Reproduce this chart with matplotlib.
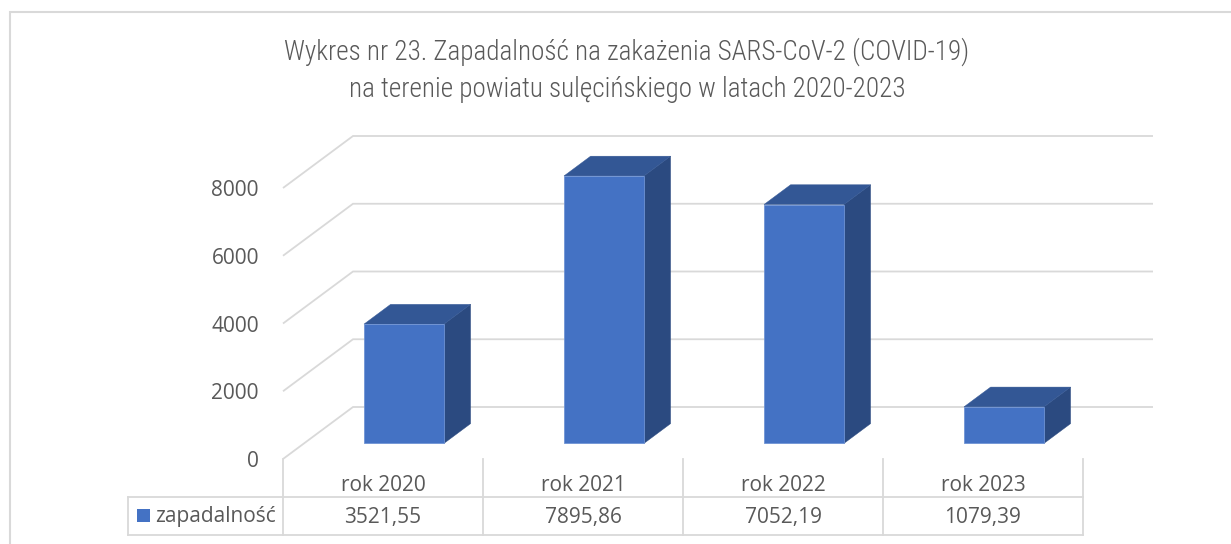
import matplotlib
matplotlib.use("Agg")
import matplotlib.pyplot as plt
from matplotlib.patches import Polygon, Rectangle
from matplotlib.lines import Line2D
import matplotlib.transforms as mtransforms

# ---------------- data ----------------
categories = ["rok 2020", "rok 2021", "rok 2022", "rok 2023"]
values = [3521.55, 7895.86, 7052.19, 1079.39]
series_name = "zapadalność"
y_ticks = [0, 2000, 4000, 6000, 8000]
title_lines = ["Wykres nr 23. Zapadalność na zakażenia SARS-CoV-2 (COVID-19)",
               "na terenie powiatu sulęcińskiego w latach 2020-2023"]

# ---------------- style ----------------
W, H = 1231, 544
TEXT_C = "#595959"
GRID_C = "#d9d9d9"
FRONT_C = "#4472c4"
TOP_C = "#335795"
SIDE_C = "#2b4a80"
FONT = "Open Sans"
TITLE_FONT = ["Roboto Condensed", "Liberation Sans Narrow", "Barlow Condensed",
              "Asap Condensed", "DejaVu Sans"]

fig = plt.figure(figsize=(W / 100, H / 100), dpi=100)
fig.patch.set_facecolor("white")


def fx(px):
    return px / W


def fy(py):
    return 1 - py / H


# front plane of the 3-D plot in pixels
L, R, T, B = 283, 1160, 100, 459
ax = fig.add_axes([fx(L), fy(B), fx(R) - fx(L), fy(T) - fy(B)])
ax.set_axis_off()
px_per_cat = 200.0
px_per_unit = 271.0 / 8000.0
n = len(categories)
ax.set_xlim(-0.5, -0.5 + (R - L) / px_per_cat)
ax.set_ylim(0, (B - T) / px_per_unit)
DX = 70 / px_per_cat      # depth offset in category units
DY = 52 / px_per_unit     # depth offset in value units

# outer chart frame
fig.add_artist(Rectangle((fx(10), fy(H + 20)), fx(W + 20), fy(12) - fy(H + 20),
                         transform=fig.transFigure, fill=False,
                         edgecolor=GRID_C, lw=1.5))

# gridlines: side wall diagonal + back wall
for t in y_ticks:
    ax.plot([-0.5, -0.5 + DX, n - 0.5 + DX], [t, t + DY, t + DY],
            color=GRID_C, lw=1.3, zorder=1, solid_capstyle="butt",
            solid_joinstyle="miter", clip_on=False)

# y tick labels
off = mtransforms.ScaledTranslation(-24 / 100, -8 / 100, fig.dpi_scale_trans)
for t in y_ticks:
    ax.text(-0.5, t, f"{t}", transform=ax.transData + off, ha="right",
            va="baseline", fontsize=15, color=TEXT_C, family=FONT)

# 3-D bars
f1, f2, hw = 0.3, 0.68, 0.2
for i, v in enumerate(values):
    xl, xr = i - hw, i + hw
    front = [(xl + f1 * DX, f1 * DY), (xr + f1 * DX, f1 * DY),
             (xr + f1 * DX, v + f1 * DY), (xl + f1 * DX, v + f1 * DY)]
    top = [(xl + f1 * DX, v + f1 * DY), (xr + f1 * DX, v + f1 * DY),
           (xr + f2 * DX, v + f2 * DY), (xl + f2 * DX, v + f2 * DY)]
    side = [(xr + f1 * DX, f1 * DY), (xr + f2 * DX, f2 * DY),
            (xr + f2 * DX, v + f2 * DY), (xr + f1 * DX, v + f1 * DY)]
    ax.add_patch(Polygon(side, closed=True, facecolor=SIDE_C, edgecolor=SIDE_C,
                         lw=0.3, zorder=3))
    ax.add_patch(Polygon(top, closed=True, facecolor=TOP_C, edgecolor=TOP_C,
                         lw=0.3, zorder=3))
    ax.add_patch(Polygon(front, closed=True, facecolor=FRONT_C,
                         edgecolor="#6f93d4", lw=0.6, zorder=4))

# ---------------- data table ----------------
blend = mtransforms.blended_transform_factory(ax.transData, fig.transFigure)
TBL_TOP, ROW_MID, TBL_BOT = 459, 497, 535
TBL_LEFT = 128
for k in range(n + 1):
    xb = k - 0.5
    fig.add_artist(Line2D([xb, xb], [fy(TBL_TOP), fy(TBL_BOT)], transform=blend,
                          color=GRID_C, lw=1.3))
x_right_px = L + n * px_per_cat
for yy in (ROW_MID, TBL_BOT):
    fig.add_artist(Line2D([fx(TBL_LEFT), fx(x_right_px)], [fy(yy), fy(yy)],
                          transform=fig.transFigure, color=GRID_C, lw=1.3))
fig.add_artist(Line2D([fx(TBL_LEFT), fx(TBL_LEFT)], [fy(ROW_MID), fy(TBL_BOT)],
                      transform=fig.transFigure, color=GRID_C, lw=1.3))

for i, (c, v) in enumerate(zip(categories, values)):
    fig.text(0, fy(491), c, transform=blend, ha="center", va="baseline",
             fontsize=15, color=TEXT_C, family=FONT).set_x(i)
    fig.text(0, fy(523), f"{v:.2f}".replace(".", ","), transform=blend,
             ha="center", va="baseline", fontsize=15, color=TEXT_C,
             family=FONT).set_x(i)

fig.add_artist(Rectangle((fx(136.5), fy(521.5)), fx(13), fy(508.5) - fy(521.5),
                         transform=fig.transFigure, facecolor=FRONT_C,
                         edgecolor="none"))
fig.text(fx(155), fy(522), series_name, ha="left", va="baseline", fontsize=15,
         color=TEXT_C, family=FONT)

# ---------------- title ----------------
t1 = fig.text(fx(627), fy(60), title_lines[0], ha="center", va="baseline",
              fontsize=20.5, color=TEXT_C, family=TITLE_FONT, weight="light")
t2 = fig.text(fx(627), fy(97), title_lines[1], ha="center", va="baseline",
              fontsize=20.5, color=TEXT_C, family=TITLE_FONT, weight="light")
# fit the first title line to the reference width (~687 px)
renderer = fig.canvas.get_renderer()
w1 = t1.get_window_extent(renderer).width
scale = 687.0 / w1
new_size = 20.5 * min(max(scale, 0.6), 1.4)
t1.set_fontsize(new_size)
t2.set_fontsize(new_size)

fig.savefig("out.png", dpi=100, facecolor="white")
